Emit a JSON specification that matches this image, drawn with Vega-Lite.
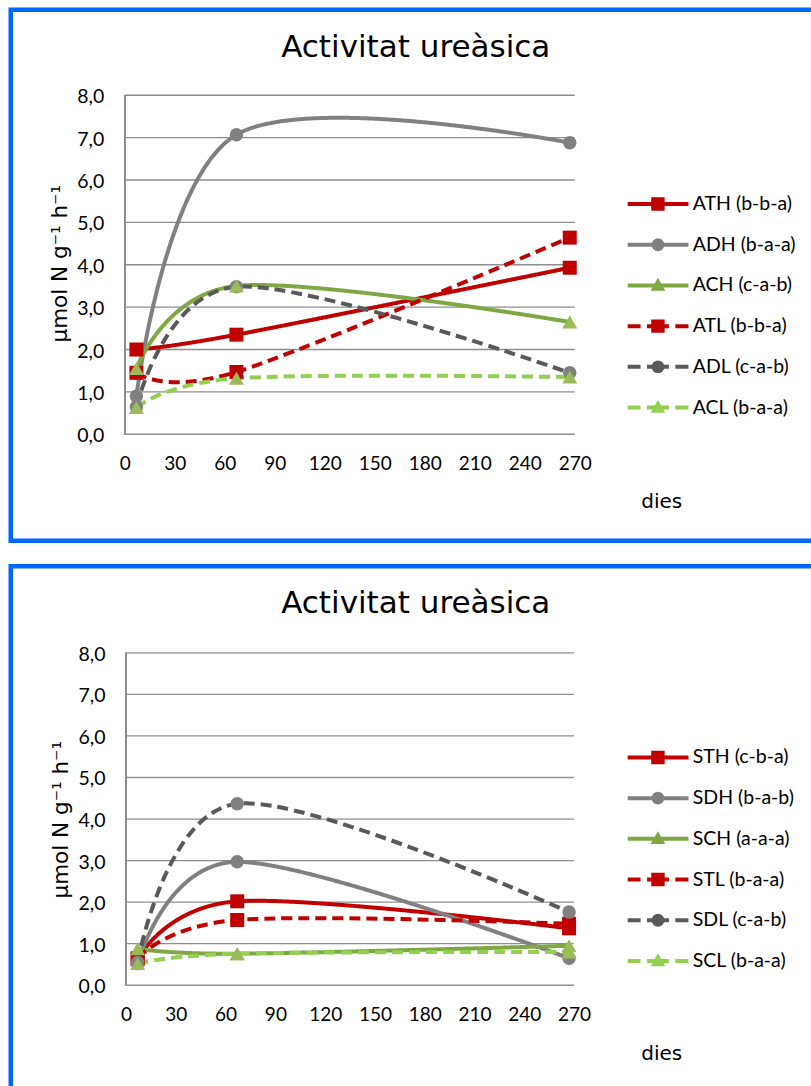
{
  "$schema": "https://vega.github.io/schema/vega-lite/v6.json",
  "background": "white",
  "padding": {"left": 7.75, "top": 6.75, "right": 0, "bottom": 0},
  "config": {
    "view": {"stroke": "#0066FF", "strokeWidth": 4.5},
    "font": "Lato"
  },
  "datasets": {
    "grid": [{"v": 0}, {"v": 1}, {"v": 2}, {"v": 3}, {"v": 4}, {"v": 5}, {"v": 6}, {"v": 7}, {"v": 8}],
    "alt": [
      {"serie": "ATH (b-b-a)", "dia": 7, "valor": 2.0},
      {"serie": "ATH (b-b-a)", "dia": 67, "valor": 2.35},
      {"serie": "ATH (b-b-a)", "dia": 267, "valor": 3.93},
      {"serie": "ADH (b-a-a)", "dia": 7, "valor": 0.9},
      {"serie": "ADH (b-a-a)", "dia": 67, "valor": 7.07},
      {"serie": "ADH (b-a-a)", "dia": 267, "valor": 6.88},
      {"serie": "ACH (c-a-b)", "dia": 7, "valor": 1.55},
      {"serie": "ACH (c-a-b)", "dia": 67, "valor": 3.5},
      {"serie": "ACH (c-a-b)", "dia": 267, "valor": 2.65},
      {"serie": "ATL (b-b-a)", "dia": 7, "valor": 1.45},
      {"serie": "ATL (b-b-a)", "dia": 67, "valor": 1.47},
      {"serie": "ATL (b-b-a)", "dia": 267, "valor": 4.64},
      {"serie": "ADL (c-a-b)", "dia": 7, "valor": 0.65},
      {"serie": "ADL (c-a-b)", "dia": 67, "valor": 3.48},
      {"serie": "ADL (c-a-b)", "dia": 267, "valor": 1.45},
      {"serie": "ACL (b-a-a)", "dia": 7, "valor": 0.63},
      {"serie": "ACL (b-a-a)", "dia": 67, "valor": 1.32},
      {"serie": "ACL (b-a-a)", "dia": 267, "valor": 1.35}
    ],
    "baix": [
      {"serie": "STH (c-b-a)", "dia": 7, "valor": 0.63},
      {"serie": "STH (c-b-a)", "dia": 67, "valor": 2.02},
      {"serie": "STH (c-b-a)", "dia": 267, "valor": 1.37},
      {"serie": "SDH (b-a-b)", "dia": 7, "valor": 0.52},
      {"serie": "SDH (b-a-b)", "dia": 67, "valor": 2.97},
      {"serie": "SDH (b-a-b)", "dia": 267, "valor": 0.65},
      {"serie": "SCH (a-a-a)", "dia": 7, "valor": 0.88},
      {"serie": "SCH (a-a-a)", "dia": 67, "valor": 0.76},
      {"serie": "SCH (a-a-a)", "dia": 267, "valor": 0.95},
      {"serie": "STL (b-a-a)", "dia": 7, "valor": 0.65},
      {"serie": "STL (b-a-a)", "dia": 67, "valor": 1.57},
      {"serie": "STL (b-a-a)", "dia": 267, "valor": 1.48},
      {"serie": "SDL (c-a-b)", "dia": 7, "valor": 0.55},
      {"serie": "SDL (c-a-b)", "dia": 67, "valor": 4.37},
      {"serie": "SDL (c-a-b)", "dia": 267, "valor": 1.76},
      {"serie": "SCL (b-a-a)", "dia": 7, "valor": 0.52},
      {"serie": "SCL (b-a-a)", "dia": 67, "valor": 0.76},
      {"serie": "SCL (b-a-a)", "dia": 267, "valor": 0.8}
    ]
  },
  "resolve": {"scale": {"color": "independent", "shape": "independent", "stroke": "independent", "strokeDash": "independent"}, "legend": {"color": "independent", "shape": "independent"}},
  "vconcat": [
    {
      "width": 810,
      "height": 531,
      "title": {"text": "Activitat ureàsica", "font": "DejaVu Sans", "fontSize": 31, "fontWeight": "normal", "color": "#000000", "frame": "group", "anchor": "middle", "baseline": "alphabetic", "offset": -78},
      "layer": [
        {
          "data": {"name": "grid"},
          "mark": {"type": "rule", "color": "#8E8E8E", "strokeWidth": 1.3},
          "encoding": {
            "y": {"field": "v", "type": "quantitative", "scale": {"domain": [-2.513, 10.018], "nice": false, "zero": false}},
            "x": {"datum": 0, "type": "quantitative", "scale": {"domain": [-68.4, 417.6], "nice": false, "zero": false}},
            "x2": {"datum": 270}
          }
        },
        {
          "data": {"name": "grid"},
          "mark": {"type": "rule", "color": "#8E8E8E", "strokeWidth": 1.3},
          "encoding": {
            "x": {"datum": 0, "type": "quantitative"},
            "y": {"datum": 0, "type": "quantitative"},
            "y2": {"datum": 8}
          }
        },
        {
          "data": {"name": "alt"},
          "mark": {"type": "line", "interpolate": "cardinal", "strokeWidth": 4, "strokeCap": "butt"},
          "encoding": {
            "x": {"field": "dia", "type": "quantitative", "scale": {"domain": [-68.4, 417.6], "nice": false, "zero": false},
              "axis": {"values": [0, 30, 60, 90, 120, 150, 180, 210, 240, 270], "offset": -106.5, "domain": false, "ticks": false, "tickSize": 0, "grid": false, "labelPadding": 29, "labelBaseline": "middle", "labelFont": "Lato", "labelFontSize": 19, "labelColor": "#000000", "labelFlush": false, "labelOverlap": false,
                "title": "dies", "titleFont": "DejaVu Sans", "titleFontSize": 20, "titleFontWeight": "normal", "titleColor": "#000000", "titleX": 650.5, "titleY": 73, "titleAlign": "center", "titleBaseline": "alphabetic"}},
            "y": {"field": "valor", "type": "quantitative", "scale": {"domain": [-2.513, 10.018], "nice": false, "zero": false},
              "axis": {"values": [0, 1, 2, 3, 4, 5, 6, 7, 8], "labelExpr": "replace(format(datum.value, '.1f'), '.', ',')", "offset": -114, "domain": false, "ticks": false, "tickSize": 0, "grid": false, "labelPadding": 21, "labelOffset": 1.5, "labelFont": "Lato", "labelFontSize": 19.5, "labelColor": "#000000", "labelFlush": false, "labelOverlap": false,
                "title": "µmol N g⁻¹ h⁻¹", "titleFont": "DejaVu Sans", "titleFontSize": 21.5, "titleFontWeight": "normal", "titleColor": "#000000", "titleX": -58, "titleY": 253.5, "titleAngle": -90, "titleAlign": "center", "titleBaseline": "alphabetic"}},
            "stroke": {"field": "serie", "type": "nominal", "legend": null,
              "scale": {"domain": ["ACL (b-a-a)", "ADL (c-a-b)", "ATL (b-b-a)", "ACH (c-a-b)", "ADH (b-a-a)", "ATH (b-b-a)"], "range": ["#92D050", "#595959", "#C00000", "#7FA844", "#808080", "#C00000"]}},
            "strokeDash": {"field": "serie", "type": "nominal", "legend": null,
              "scale": {"domain": ["ACL (b-a-a)", "ADL (c-a-b)", "ATL (b-b-a)", "ACH (c-a-b)", "ADH (b-a-a)", "ATH (b-b-a)"], "range": [[11, 6], [11, 6], [11, 6], [1, 0], [1, 0], [1, 0]]}}
          }
        },
        {
          "data": {"name": "alt"},
          "transform": [{"filter": {"field": "serie", "oneOf": ["ATH (b-b-a)", "ATL (b-b-a)"]}}],
          "mark": {"type": "point", "shape": "square", "filled": true, "fill": "#C00000", "size": 196, "opacity": 1, "strokeWidth": 0},
          "encoding": {"x": {"field": "dia", "type": "quantitative"}, "y": {"field": "valor", "type": "quantitative"}}
        },
        {
          "data": {"name": "alt"},
          "transform": [{"filter": {"field": "serie", "oneOf": ["ADH (b-a-a)", "ADL (c-a-b)"]}}],
          "mark": {"type": "point", "shape": "circle", "filled": true, "fill": "#808080", "size": 182, "opacity": 1, "strokeWidth": 0},
          "encoding": {"x": {"field": "dia", "type": "quantitative"}, "y": {"field": "valor", "type": "quantitative"}}
        },
        {
          "data": {"name": "alt"},
          "transform": [{"filter": {"field": "serie", "oneOf": ["ACH (c-a-b)", "ACL (b-a-a)"]}}],
          "mark": {"type": "point", "shape": "triangle-up", "filled": true, "fill": "#9BBB59", "size": 225, "opacity": 1, "strokeWidth": 0},
          "encoding": {"x": {"field": "dia", "type": "quantitative"}, "y": {"field": "valor", "type": "quantitative"}}
        },
        {
          "data": {"name": "alt"},
          "mark": {"type": "point", "filled": true, "opacity": 1, "size": 0, "strokeWidth": 0},
          "encoding": {
            "x": {"field": "dia", "type": "quantitative"},
            "y": {"field": "valor", "type": "quantitative"},
            "color": {"field": "serie", "type": "nominal",
              "scale": {"domain": ["ATH (b-b-a)", "ADH (b-a-a)", "ACH (c-a-b)", "ATL (b-b-a)", "ADL (c-a-b)", "ACL (b-a-a)"], "range": ["#C00000", "#808080", "#7FA844", "#C00000", "#595959", "#92D050"]},
              "legend": {"orient": "none", "legendX": 616.7, "legendY": 182.3, "title": null, "padding": 0, "clipHeight": 24, "rowPadding": 16.7, "labelOffset": 4.3, "labelFont": "Lato", "labelFontSize": 19.5, "labelColor": "#000000", "symbolSize": 3721, "symbolStrokeWidth": 0, "symbolOpacity": 1, "labelLimit": 200}},
            "shape": {"field": "serie", "type": "nominal",
              "scale": {"domain": ["ATH (b-b-a)", "ADH (b-a-a)", "ACH (c-a-b)", "ATL (b-b-a)", "ADL (c-a-b)", "ACL (b-a-a)"],
                "range": [
                  "M-1,-0.066L1,-0.066L1,0.066L-1,0.066Z M-0.22,-0.22L0.22,-0.22L0.22,0.22L-0.22,0.22Z",
                  "M-1,-0.066L1,-0.066L1,0.066L-1,0.066Z M0.21,0L0.194,0.0804L0.1485,0.1485L0.0804,0.194L0,0.21L-0.0804,0.194L-0.1485,0.1485L-0.194,0.0804L-0.21,0L-0.194,-0.0804L-0.1485,-0.1485L-0.0804,-0.194L0,-0.21L0.0804,-0.194L0.1485,-0.1485L0.194,-0.0804Z",
                  "M-1,-0.066L1,-0.066L1,0.066L-1,0.066Z M0,-0.25L0.24,0.17L-0.24,0.17Z",
                  "M-1,-0.066L-0.57,-0.066L-0.57,0.066L-1,0.066Z M-0.36,-0.066L0.36,-0.066L0.36,0.066L-0.36,0.066Z M0.57,-0.066L1,-0.066L1,0.066L0.57,0.066Z M-0.22,-0.22L0.22,-0.22L0.22,0.22L-0.22,0.22Z",
                  "M-1,-0.066L-0.57,-0.066L-0.57,0.066L-1,0.066Z M-0.36,-0.066L0.36,-0.066L0.36,0.066L-0.36,0.066Z M0.57,-0.066L1,-0.066L1,0.066L0.57,0.066Z M0.21,0L0.194,0.0804L0.1485,0.1485L0.0804,0.194L0,0.21L-0.0804,0.194L-0.1485,0.1485L-0.194,0.0804L-0.21,0L-0.194,-0.0804L-0.1485,-0.1485L-0.0804,-0.194L0,-0.21L0.0804,-0.194L0.1485,-0.1485L0.194,-0.0804Z",
                  "M-1,-0.066L-0.57,-0.066L-0.57,0.066L-1,0.066Z M-0.36,-0.066L0.36,-0.066L0.36,0.066L-0.36,0.066Z M0.57,-0.066L1,-0.066L1,0.066L0.57,0.066Z M0,-0.25L0.24,0.17L-0.24,0.17Z"
                ]}}
          }
        }
      ]
    },
    {
      "width": 810,
      "height": 531,
      "title": {"text": "Activitat ureàsica", "font": "DejaVu Sans", "fontSize": 31, "fontWeight": "normal", "color": "#000000", "frame": "group", "anchor": "middle", "baseline": "alphabetic", "offset": -78},
      "layer": [
        {
          "data": {"name": "grid"},
          "mark": {"type": "rule", "color": "#8E8E8E", "strokeWidth": 1.3},
          "encoding": {
            "y": {"field": "v", "type": "quantitative", "scale": {"domain": [-2.696, 10.084], "nice": false, "zero": false}},
            "x": {"datum": 0, "type": "quantitative", "scale": {"domain": [-69.5, 418.7], "nice": false, "zero": false}},
            "x2": {"datum": 270}
          }
        },
        {
          "data": {"name": "grid"},
          "mark": {"type": "rule", "color": "#8E8E8E", "strokeWidth": 1.3},
          "encoding": {
            "x": {"datum": 0, "type": "quantitative"},
            "y": {"datum": 0, "type": "quantitative"},
            "y2": {"datum": 8}
          }
        },
        {
          "data": {"name": "baix"},
          "mark": {"type": "line", "interpolate": "cardinal", "strokeWidth": 4, "strokeCap": "butt"},
          "encoding": {
            "x": {"field": "dia", "type": "quantitative", "scale": {"domain": [-69.5, 418.7], "nice": false, "zero": false},
              "axis": {"values": [0, 30, 60, 90, 120, 150, 180, 210, 240, 270], "offset": -112, "domain": false, "ticks": false, "tickSize": 0, "grid": false, "labelPadding": 29.5, "labelBaseline": "middle", "labelFont": "Lato", "labelFontSize": 19, "labelColor": "#000000", "labelFlush": false, "labelOverlap": false,
                "title": "dies", "titleFont": "DejaVu Sans", "titleFontSize": 20, "titleFontWeight": "normal", "titleColor": "#000000", "titleX": 650.5, "titleY": 74, "titleAlign": "center", "titleBaseline": "alphabetic"}},
            "y": {"field": "valor", "type": "quantitative", "scale": {"domain": [-2.696, 10.084], "nice": false, "zero": false},
              "axis": {"values": [0, 1, 2, 3, 4, 5, 6, 7, 8], "labelExpr": "replace(format(datum.value, '.1f'), '.', ',')", "offset": -115.3, "domain": false, "ticks": false, "tickSize": 0, "grid": false, "labelPadding": 21, "labelOffset": 1.5, "labelFont": "Lato", "labelFontSize": 19.5, "labelColor": "#000000", "labelFlush": false, "labelOverlap": false,
                "title": "µmol N g⁻¹ h⁻¹", "titleFont": "DejaVu Sans", "titleFontSize": 21.5, "titleFontWeight": "normal", "titleColor": "#000000", "titleX": -59, "titleY": 253, "titleAngle": -90, "titleAlign": "center", "titleBaseline": "alphabetic"}},
            "stroke": {"field": "serie", "type": "nominal", "legend": null,
              "scale": {"domain": ["SCL (b-a-a)", "SDL (c-a-b)", "STL (b-a-a)", "SCH (a-a-a)", "SDH (b-a-b)", "STH (c-b-a)"], "range": ["#92D050", "#595959", "#C00000", "#7FA844", "#808080", "#C00000"]}},
            "strokeDash": {"field": "serie", "type": "nominal", "legend": null,
              "scale": {"domain": ["SCL (b-a-a)", "SDL (c-a-b)", "STL (b-a-a)", "SCH (a-a-a)", "SDH (b-a-b)", "STH (c-b-a)"], "range": [[11, 6], [11, 6], [11, 6], [1, 0], [1, 0], [1, 0]]}}
          }
        },
        {
          "data": {"name": "baix"},
          "transform": [{"filter": {"field": "serie", "oneOf": ["STH (c-b-a)", "STL (b-a-a)"]}}],
          "mark": {"type": "point", "shape": "square", "filled": true, "fill": "#C00000", "size": 196, "opacity": 1, "strokeWidth": 0},
          "encoding": {"x": {"field": "dia", "type": "quantitative"}, "y": {"field": "valor", "type": "quantitative"}}
        },
        {
          "data": {"name": "baix"},
          "transform": [{"filter": {"field": "serie", "oneOf": ["SDH (b-a-b)", "SDL (c-a-b)"]}}],
          "mark": {"type": "point", "shape": "circle", "filled": true, "fill": "#808080", "size": 182, "opacity": 1, "strokeWidth": 0},
          "encoding": {"x": {"field": "dia", "type": "quantitative"}, "y": {"field": "valor", "type": "quantitative"}}
        },
        {
          "data": {"name": "baix"},
          "transform": [{"filter": {"field": "serie", "oneOf": ["SCH (a-a-a)", "SCL (b-a-a)"]}}],
          "mark": {"type": "point", "shape": "triangle-up", "filled": true, "fill": "#9BBB59", "size": 225, "opacity": 1, "strokeWidth": 0},
          "encoding": {"x": {"field": "dia", "type": "quantitative"}, "y": {"field": "valor", "type": "quantitative"}}
        },
        {
          "data": {"name": "baix"},
          "mark": {"type": "point", "filled": true, "opacity": 1, "size": 0, "strokeWidth": 0},
          "encoding": {
            "x": {"field": "dia", "type": "quantitative"},
            "y": {"field": "valor", "type": "quantitative"},
            "color": {"field": "serie", "type": "nominal",
              "scale": {"domain": ["STH (c-b-a)", "SDH (b-a-b)", "SCH (a-a-a)", "STL (b-a-a)", "SDL (c-a-b)", "SCL (b-a-a)"], "range": ["#C00000", "#808080", "#7FA844", "#C00000", "#595959", "#92D050"]},
              "legend": {"orient": "none", "legendX": 616.7, "legendY": 179.2, "title": null, "padding": 0, "clipHeight": 24, "rowPadding": 16.7, "labelOffset": 4.3, "labelFont": "Lato", "labelFontSize": 19.5, "labelColor": "#000000", "symbolSize": 3721, "symbolStrokeWidth": 0, "symbolOpacity": 1, "labelLimit": 200}},
            "shape": {"field": "serie", "type": "nominal",
              "scale": {"domain": ["STH (c-b-a)", "SDH (b-a-b)", "SCH (a-a-a)", "STL (b-a-a)", "SDL (c-a-b)", "SCL (b-a-a)"],
                "range": [
                  "M-1,-0.066L1,-0.066L1,0.066L-1,0.066Z M-0.22,-0.22L0.22,-0.22L0.22,0.22L-0.22,0.22Z",
                  "M-1,-0.066L1,-0.066L1,0.066L-1,0.066Z M0.21,0L0.194,0.0804L0.1485,0.1485L0.0804,0.194L0,0.21L-0.0804,0.194L-0.1485,0.1485L-0.194,0.0804L-0.21,0L-0.194,-0.0804L-0.1485,-0.1485L-0.0804,-0.194L0,-0.21L0.0804,-0.194L0.1485,-0.1485L0.194,-0.0804Z",
                  "M-1,-0.066L1,-0.066L1,0.066L-1,0.066Z M0,-0.25L0.24,0.17L-0.24,0.17Z",
                  "M-1,-0.066L-0.57,-0.066L-0.57,0.066L-1,0.066Z M-0.36,-0.066L0.36,-0.066L0.36,0.066L-0.36,0.066Z M0.57,-0.066L1,-0.066L1,0.066L0.57,0.066Z M-0.22,-0.22L0.22,-0.22L0.22,0.22L-0.22,0.22Z",
                  "M-1,-0.066L-0.57,-0.066L-0.57,0.066L-1,0.066Z M-0.36,-0.066L0.36,-0.066L0.36,0.066L-0.36,0.066Z M0.57,-0.066L1,-0.066L1,0.066L0.57,0.066Z M0.21,0L0.194,0.0804L0.1485,0.1485L0.0804,0.194L0,0.21L-0.0804,0.194L-0.1485,0.1485L-0.194,0.0804L-0.21,0L-0.194,-0.0804L-0.1485,-0.1485L-0.0804,-0.194L0,-0.21L0.0804,-0.194L0.1485,-0.1485L0.194,-0.0804Z",
                  "M-1,-0.066L-0.57,-0.066L-0.57,0.066L-1,0.066Z M-0.36,-0.066L0.36,-0.066L0.36,0.066L-0.36,0.066Z M0.57,-0.066L1,-0.066L1,0.066L0.57,0.066Z M0,-0.25L0.24,0.17L-0.24,0.17Z"
                ]}}
          }
        }
      ]
    }
  ],
  "spacing": 25.5,
  "bounds": "flush"
}
